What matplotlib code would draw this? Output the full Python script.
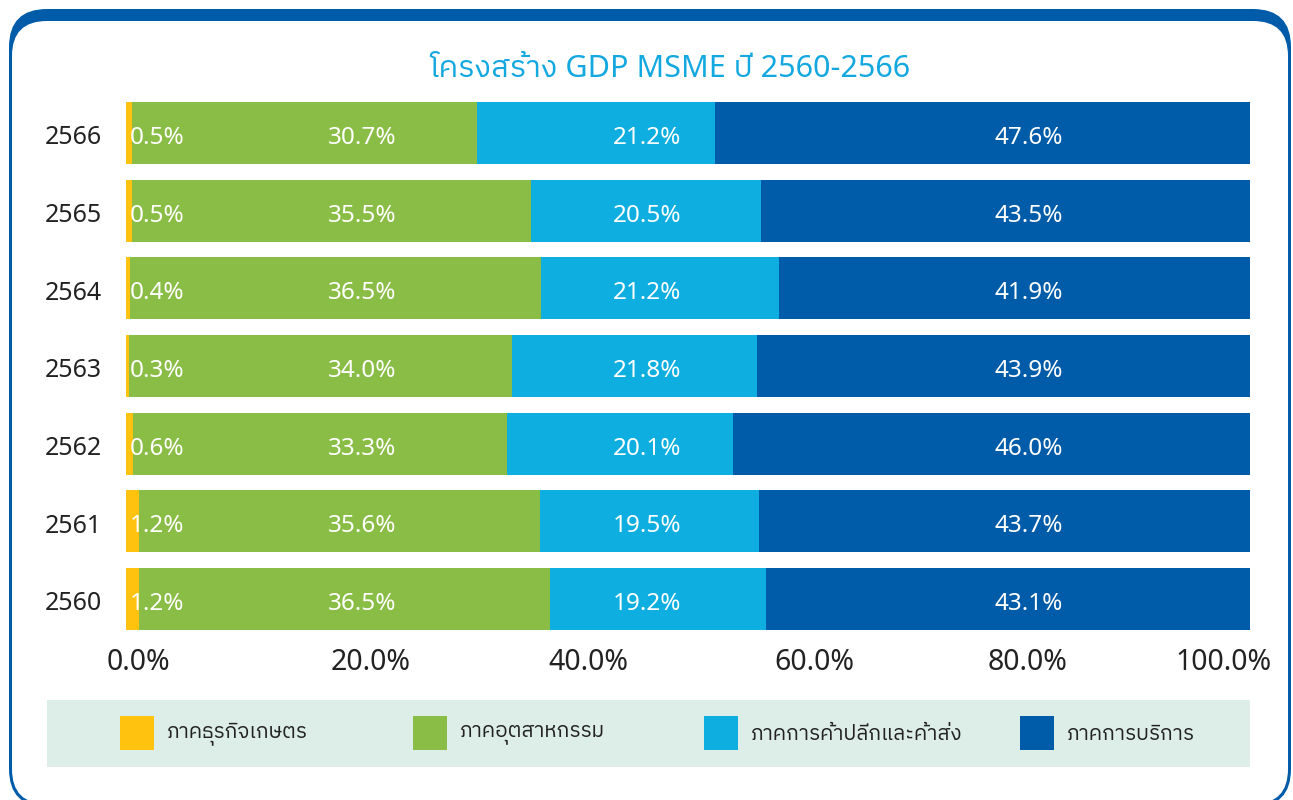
import matplotlib
matplotlib.use("Agg")
import matplotlib.pyplot as plt
import matplotlib.font_manager as fm
import matplotlib.transforms as mtransforms
from matplotlib.ft2font import FT2Font
from matplotlib.patches import FancyBboxPatch, Rectangle
import numpy as np

# ---------------- data ----------------
years = ["2560", "2561", "2562", "2563", "2564", "2565", "2566"]
agri = [1.2, 1.2, 0.6, 0.3, 0.4, 0.5, 0.5]
industry = [36.5, 35.6, 33.3, 34.0, 36.5, 35.5, 30.7]
trade = [19.2, 19.5, 20.1, 21.8, 21.2, 20.5, 21.2]
service = [43.1, 43.7, 46.0, 43.9, 41.9, 43.5, 47.6]
series_names = ["ภาคธุรกิจเกษตร", "ภาคอุตสาหกรรม", "ภาคการค้าปลีกและค้าส่ง", "ภาคการบริการ"]
xticks = [0, 20, 40, 60, 80, 100]
xtick_labels = ["0.0%", "20.0%", "40.0%", "60.0%", "80.0%", "100.0%"]
title = "โครงสร้าง GDP MSME ปี 2560-2566"

colors = ["#FFC20E", "#8ABD45", "#0EAEE0", "#005CA8"]

# ---------------- fonts ----------------
thai_fonts = []
for f in fm.fontManager.ttflist:
    try:
        cm = FT2Font(f.fname).get_charmap()
    except Exception:
        continue
    if 0x0E20 in cm and 0x0E04 in cm:
        thai_fonts.append(f.name)
pref = [n for n in thai_fonts if "Thai" in n] + thai_fonts
fam = ["Noto Sans"] + ([pref[0]] if pref else []) + ["DejaVu Sans"]
plt.rcParams["font.family"] = fam

W, H = 1293, 800
fig = plt.figure(figsize=(W / 100, H / 100), dpi=100)

# ---------------- background frame (pixel space) ----------------
bg = fig.add_axes([0, 0, 1, 1], zorder=0)
bg.set_xlim(0, W)
bg.set_ylim(H, 0)
bg.axis("off")
bg.add_patch(FancyBboxPatch((9, 9), 1282, 798, boxstyle="round,pad=0,rounding_size=38",
                            fc="#005CA8", ec="none"))
bg.add_patch(FancyBboxPatch((12, 21), 1276, 783, boxstyle="round,pad=0,rounding_size=35",
                            fc="white", ec="none"))
# legend panel
bg.add_patch(Rectangle((47, 700), 1203, 67, fc="#DDEEE8", ec="none"))
leg_sq_x = [120, 413, 704, 1020]
for sx, name, c in zip(leg_sq_x, series_names, colors):
    bg.add_patch(Rectangle((sx, 716), 34, 34, fc=c, ec="none"))
    bg.text(sx + 47, 734, name, fontsize=15, color="#222222", va="center", ha="left")

fig.text(670 / W, 1 - 69 / H, title, fontsize=22, color="#13A8DF", ha="center", va="center")

# ---------------- main chart ----------------
ax = fig.add_axes([126 / W, 1 - 637.8 / H, 1124 / W, 543.7 / H], zorder=1)
ax.patch.set_alpha(0)
y = np.arange(len(years))
left = np.zeros(len(years))
for vals, c in zip([agri, industry, trade, service], colors):
    ax.barh(y, vals, left=left, height=0.8, color=c, edgecolor="none")
    left += np.array(vals)

ax.set_xlim(0, 100)
ax.set_ylim(-0.5, len(years) - 0.5)
ax.set_yticks(y)
ax.set_yticklabels([])
ax.set_xticks(xticks)
ax.set_xticklabels([])
ax.tick_params(axis="both", length=0)
for s in ax.spines.values():
    s.set_visible(False)

down = mtransforms.ScaledTranslation(0, -5 / 100, fig.dpi_scale_trans)

# year labels
ytr = ax.get_yaxis_transform() + mtransforms.ScaledTranslation(-24 / 100, -5 / 100, fig.dpi_scale_trans)
for yi, lab in zip(y, years):
    ax.text(0, yi, lab, transform=ytr, fontsize=18, color="#222222", ha="right", va="center",
            fontweight="semibold", clip_on=False)

# x tick labels drawn as text, nudged horizontally as in the original layout
nudge_px = [12, 20, 13, 14, 2, -27]
for v, lab, dx in zip(xticks, xtick_labels, nudge_px):
    tr = ax.get_xaxis_transform() + mtransforms.ScaledTranslation(dx / 100, 0, fig.dpi_scale_trans)
    ax.text(v, -0.0463, lab, transform=tr, fontsize=20.5, color="#222222",
            ha="center", va="center", fontweight="semibold", clip_on=False)

# label columns (fixed positions as in the original layout)
col_x = [0.36, 21.0, 46.4, 80.3]
col_ha = ["left", "center", "center", "center"]
for series, cx, ha in zip([agri, industry, trade, service], col_x, col_ha):
    for yi, v in zip(y, series):
        ax.text(cx, yi, f"{v:.1f}%", color="white", fontsize=17.5, ha=ha, va="center",
                fontweight="semibold", transform=ax.transData + down)

fig.savefig("out.png", dpi=100)
